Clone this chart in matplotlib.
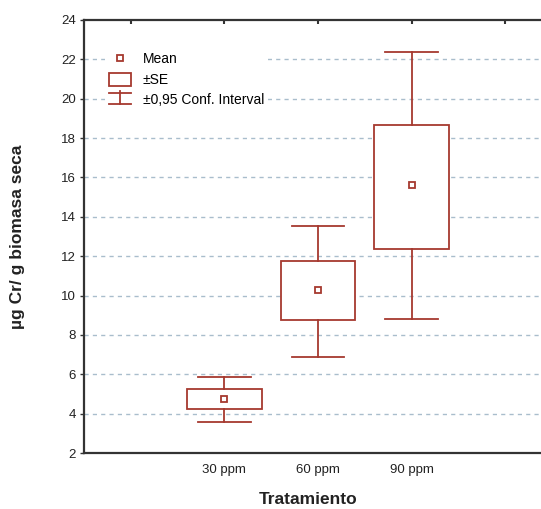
import matplotlib
matplotlib.use("Agg")
import matplotlib.pyplot as plt
from matplotlib.legend_handler import HandlerBase
from matplotlib.lines import Line2D
from matplotlib.patches import Rectangle

plt.rcParams["font.family"] = ["Liberation Sans", "DejaVu Sans"]

# values (µg Cr / g biomasa seca)
treatments = ["30 ppm", "60 ppm", "90 ppm"]
means = [4.73, 10.28, 15.62]
se_low = [4.23, 8.76, 12.35]
se_high = [5.25, 11.77, 18.66]
ci_low = [3.56, 6.86, 8.79]
ci_high = [5.88, 13.55, 22.36]
yticks = [2, 4, 6, 8, 10, 12, 14, 16, 18, 20, 22, 24]

box_color = "#a6392f"
grid_color = "#a9bdcc"
spine_color = "#333333"


class CIKey:
    pass


class SEHandler(HandlerBase):
    def create_artists(self, legend, orig_handle, xdescent, ydescent,
                       width, height, fontsize, trans):
        r = Rectangle((-xdescent, -ydescent - 0.2 * height), width, height * 1.3,
                      facecolor="white", edgecolor=box_color, lw=1.3, transform=trans)
        return [r]


class CIHandler(HandlerBase):
    def create_artists(self, legend, orig_handle, xdescent, ydescent,
                       width, height, fontsize, trans):
        x0, y0 = -xdescent, -ydescent
        top = y0 + height * 1.15
        bot = y0 - height * 0.05
        mid = x0 + width / 2
        a = Line2D([x0, x0 + width], [top, top], color=box_color, lw=1.3, transform=trans)
        b = Line2D([mid, mid], [top + height * 0.2, bot], color=box_color, lw=1.3, transform=trans)
        c = Line2D([x0, x0 + width], [bot, bot], color=box_color, lw=1.3, transform=trans)
        return [a, b, c]


fig = plt.figure(figsize=(5.41, 5.09), dpi=100)
ax = fig.add_axes([84 / 541, 56 / 509, 468 / 541, 433 / 509])

stats = []
for i, name in enumerate(treatments):
    stats.append({
        "label": name,
        "mean": means[i],
        "med": means[i],
        "q1": se_low[i],
        "q3": se_high[i],
        "whislo": ci_low[i],
        "whishi": ci_high[i],
    })

ax.bxp(stats, positions=[1, 2, 3], widths=0.8, capwidths=0.56,
       patch_artist=True, showmeans=True, showfliers=False,
       boxprops=dict(facecolor="white", edgecolor=box_color, lw=1.3),
       whiskerprops=dict(color=box_color, lw=1.3),
       capprops=dict(color=box_color, lw=1.3),
       medianprops=dict(visible=False),
       meanprops=dict(marker="s", markersize=4.5, markerfacecolor="white",
                      markeredgecolor=box_color, markeredgewidth=1.3),
       zorder=3)

ax.set_xlim(-0.5, 4.5)
ax.set_ylim(2, 24)
ax.set_yticks(yticks)
ax.set_xticks(range(5))
ax.set_xticklabels([""] + treatments + [""])

for y in yticks[1:-1]:
    ax.axhline(y, color=grid_color, lw=1, ls=(0, (3, 3)), zorder=1)

for side in ["left", "bottom", "top"]:
    ax.spines[side].set_color(spine_color)
    ax.spines[side].set_linewidth(1.6)
ax.spines["right"].set_visible(False)

ax.tick_params(axis="y", direction="out", length=3, width=1, colors=spine_color,
               labelsize=9.5, pad=3, labelcolor="#222222")
ax.tick_params(axis="x", bottom=False, top=True, direction="in", length=3, width=1.5,
               labelsize=9.5, pad=8, colors=spine_color, labelcolor="#222222")

ax.set_ylabel("µg Cr/ g biomasa seca", fontsize=12.5, fontweight="bold", color="#222222")
ax.yaxis.set_label_coords(-0.125, 0.5)
ax.set_xlabel("Tratamiento", fontsize=12.5, fontweight="bold", color="#222222")
ax.xaxis.set_label_coords(0.479, -0.09)

mean_handle = Line2D([], [], ls="none", marker="s", markersize=4.5, markerfacecolor="white",
                     markeredgecolor=box_color, markeredgewidth=1.3)
se_handle = Rectangle((0, 0), 1, 1)
ci_handle = CIKey()
leg = ax.legend([mean_handle, se_handle, ci_handle],
                ["Mean", "±SE", "±0,95 Conf. Interval"],
                handler_map={Rectangle: SEHandler(), CIKey: CIHandler()},
                loc="upper left", bbox_to_anchor=(0.045, 0.935), fontsize=10,
                frameon=True, framealpha=1, edgecolor="none", fancybox=False,
                handlelength=1.6, handletextpad=0.8, labelspacing=0.45,
                borderpad=0.3, borderaxespad=0)
leg.set_zorder(5)

fig.savefig("out.png", dpi=100)
